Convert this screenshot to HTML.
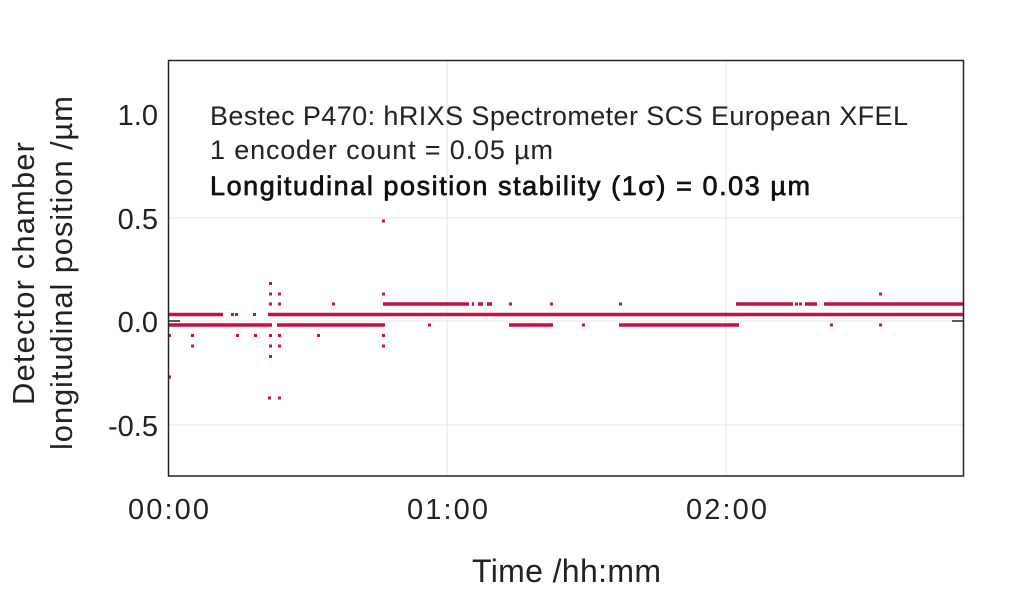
<!DOCTYPE html>
<html><head><meta charset="utf-8"><style>
body{margin:0;background:#fff;}
svg text{font-family:"Liberation Sans",sans-serif;}
</style></head><body>
<svg width="1024" height="589" xmlns="http://www.w3.org/2000/svg">
<rect width="1024" height="589" fill="#fff"/>
<g stroke="#e4e4e4" stroke-width="1">
<line x1="168" y1="218" x2="964" y2="218"/><line x1="168" y1="321" x2="964" y2="321"/><line x1="168" y1="425" x2="964" y2="425"/>
<line x1="447" y1="60" x2="447" y2="476"/><line x1="726" y1="60" x2="726" y2="476"/>
</g>
<g stroke="#c8103e" stroke-width="3.5">
<line x1="168" y1="314.5" x2="223" y2="314.5"/><line x1="268" y1="314.5" x2="964" y2="314.5"/>
<line x1="168" y1="325" x2="272" y2="325"/><line x1="277" y1="325" x2="385" y2="325"/>
<line x1="509" y1="325" x2="553" y2="325"/><line x1="619" y1="325" x2="739" y2="325"/>
<line x1="383" y1="304" x2="469" y2="304"/><line x1="472" y1="304" x2="474" y2="304"/><line x1="478" y1="304" x2="483" y2="304"/><line x1="487" y1="304" x2="492" y2="304"/>
<line x1="736" y1="304" x2="793" y2="304"/><line x1="805" y1="304" x2="817" y2="304"/><line x1="824" y1="304" x2="964" y2="304"/>
</g>
<g fill="#c8103e">
<rect x="231" y="313" width="3" height="3"/><rect x="235" y="313" width="3" height="3"/><rect x="253" y="313" width="3" height="3"/>
<rect x="382" y="219.5" width="3" height="3"/>
<rect x="269" y="282" width="3" height="3"/>
<rect x="269" y="292.5" width="3" height="3"/><rect x="278" y="292.5" width="3" height="3"/><rect x="382" y="292.5" width="3" height="3"/><rect x="879" y="292.5" width="3" height="3"/>
<rect x="269" y="302.5" width="3" height="3"/><rect x="278" y="302.5" width="3" height="3"/><rect x="332" y="302.5" width="3" height="3"/>
<rect x="509" y="302.5" width="3" height="3"/><rect x="550" y="302.5" width="3" height="3"/><rect x="619" y="302.5" width="3" height="3"/><rect x="795" y="302.5" width="3" height="3"/><rect x="799" y="302.5" width="3" height="3"/>
<rect x="428" y="323.5" width="3" height="3"/><rect x="582" y="323.5" width="3" height="3"/><rect x="830" y="323.5" width="3" height="3"/><rect x="879" y="323.5" width="3" height="3"/>
<rect x="168" y="334" width="3" height="3"/><rect x="191" y="334" width="3" height="3"/><rect x="236" y="334" width="3" height="3"/><rect x="254" y="334" width="3" height="3"/><rect x="269" y="334" width="3" height="3"/><rect x="278" y="334" width="3" height="3"/><rect x="317" y="334" width="3" height="3"/><rect x="382" y="334" width="3" height="3"/>
<rect x="191" y="344.5" width="3" height="3"/><rect x="269" y="344.5" width="3" height="3"/><rect x="278" y="344.5" width="3" height="3"/><rect x="382" y="344.5" width="3" height="3"/>
<rect x="269" y="355" width="3" height="3"/>
<rect x="168" y="375.5" width="3" height="3"/>
<rect x="268" y="396.5" width="3" height="3"/><rect x="278" y="396.5" width="3" height="3"/>
</g>
<rect x="168.5" y="60.5" width="795" height="415.5" fill="none" stroke="#222" stroke-width="1.5"/>
<g stroke="#222" stroke-width="1.5">
<line x1="168" y1="321" x2="180" y2="321"/><line x1="952" y1="321" x2="964" y2="321"/>
</g>
<g font-size="29" fill="#222" text-anchor="end">
<text x="158" y="125">1.0</text><text x="158" y="229">0.5</text><text x="158" y="332">0.0</text><text x="158" y="436">-0.5</text>
</g>
<g font-size="29" fill="#222">
<text x="128" y="519" textLength="81">00:00</text><text x="407" y="519" textLength="81">01:00</text><text x="686" y="519" textLength="81">02:00</text>
<text x="472" y="582" font-size="32" textLength="189">Time /hh:mm</text>
</g>
<g font-size="31" fill="#222">
<text transform="translate(34,405) rotate(-90)" textLength="263">Detector chamber</text>
<text transform="translate(72,450) rotate(-90)" textLength="354">longitudinal position /µm</text>
</g>
<g font-size="27" fill="#222">
<text x="210" y="125" textLength="698">Bestec P470: hRIXS Spectrometer SCS European XFEL</text>
<text x="210" y="159" textLength="343">1 encoder count = 0.05 µm</text>
<text x="210" y="195" textLength="600" fill="#111" stroke="#111" stroke-width="0.7">Longitudinal position stability (1σ) = 0.03 µm</text>
</g>
</svg>
</body></html>
